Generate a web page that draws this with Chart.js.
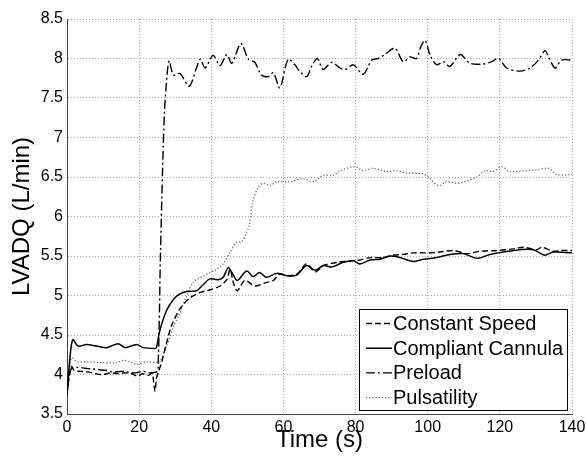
<!DOCTYPE html>
<html>
<head>
<meta charset="utf-8">
<script src="https://cdn.jsdelivr.net/npm/chart.js@4.4.1/dist/chart.umd.min.js"></script>
<style>
html,body{margin:0;padding:0;background:#fff;}
#wrap{width:586px;height:460px;position:relative;}
</style>
</head>
<body>
<div id="wrap"><canvas id="c" width="586" height="460"></canvas></div>
<script>
// ---- Data ----
const seriesNames = ["Constant Speed", "Compliant Cannula", "Preload", "Pulsatility"];
const xTicks = [0, 20, 40, 60, 80, 100, 120, 140];
const yTicks = [3.5, 4, 4.5, 5, 5.5, 6, 6.5, 7, 7.5, 8, 8.5];

const csT = [0,0.7,1.3,2,4,6,8,10,12,14,16,18,19.5,21,22.5,23.5,24,24.4,24.8,25.3,26.2,27.6,29,31.3,34.1,37,39.6,42.4,44.3,45.2,46.2,47.2,49.3,52.1,54.9,57.2,59,61.8,64,66.4,68.8,71.1,75,78.5,81.2,84,87.7,90.5,93.2,96,99.7,103.4,107.1,110.8,114.5,119.1,123.7,126.5,130.2,131.6,134.8,137,140];
const csV = [3.75,4.0,4.1,4.05,4.04,4.03,4.01,4.0,4.02,4.01,4.02,4.01,3.98,4.01,3.99,4.02,3.92,3.79,3.95,4.03,4.15,4.4,4.62,4.83,4.97,5.04,5.07,5.12,5.2,5.33,5.15,5.06,5.19,5.12,5.16,5.19,5.27,5.25,5.28,5.40,5.30,5.38,5.42,5.44,5.45,5.48,5.48,5.51,5.52,5.54,5.54,5.55,5.57,5.53,5.56,5.57,5.59,5.61,5.58,5.61,5.56,5.57,5.57];

const ccT = [0,0.8,1.6,3.1,5.4,8.2,11,14.2,16.1,19.3,21.1,24.4,24.8,25.7,27.6,29.5,31.3,33.2,35.9,37.8,39.6,41.9,43.3,44.7,46.1,47.2,49.8,51.6,53.4,55.3,58.1,60.9,63.7,66.4,68.8,71.1,73.4,76.6,79.4,81.2,84,86.7,89.5,92.3,96,98.8,102.5,106.2,109.9,113.6,117.3,121,125.6,129.3,132.4,134.8,140];
const ccV = [3.75,4.2,4.44,4.36,4.38,4.36,4.34,4.39,4.34,4.38,4.34,4.33,4.34,4.55,4.81,4.95,5.02,5.05,5.06,5.14,5.21,5.20,5.23,5.35,5.26,5.19,5.31,5.24,5.29,5.23,5.28,5.25,5.26,5.38,5.32,5.38,5.36,5.42,5.44,5.40,5.45,5.46,5.50,5.48,5.43,5.46,5.48,5.52,5.53,5.47,5.52,5.55,5.58,5.58,5.51,5.55,5.54];

const plT = [0,0.7,1.3,3,5,7,9,11,13,15,17,19,21,23,24.5,25.2,25.9,26.5,27,27.5,28.3,29.5,31.3,33.9,36.9,38.3,40.5,42.4,44.3,45.7,48.2,50.3,52.1,53.9,55.8,57.2,59,61.3,63.2,64.1,66.4,67.8,69.4,71,73.3,75.7,77.1,79.4,82.1,84.5,86.3,88.1,90.9,93.2,95.1,96.9,98.1,99.3,100.6,102.5,104.3,106.2,109,111.7,115.4,117.8,119.6,121.9,125.6,128.4,130.7,132.5,133.5,135.3,137.1,140];
const plV = [3.78,4.0,4.08,4.09,4.08,4.07,4.06,4.05,4.03,4.04,4.03,4.02,4.04,4.02,4.03,4.05,5.5,6.6,7.3,7.65,7.97,7.79,7.81,7.65,7.99,7.88,8.04,7.91,8.05,7.94,8.19,7.99,7.95,7.79,7.77,7.82,7.63,7.99,7.92,7.86,7.77,7.90,8.0,7.86,7.95,7.88,7.86,7.92,7.80,7.98,8.0,8.05,8.13,7.96,8.02,8.0,8.15,8.23,8.05,7.92,7.96,7.90,8.05,7.94,7.93,7.96,8.0,7.88,7.84,7.88,7.98,8.10,8.02,7.88,7.98,7.98];

const puT = [0,0.7,1.3,3,6,10,13.7,16,19.3,22,25,25.8,27.5,29.5,31.3,33.2,35,37.5,39.6,41.5,43.3,45.2,47,48.4,49.8,50.5,51.6,53,54.4,56.3,58.1,61.8,65.5,68.3,71,73.8,75.7,79.8,82.1,84.8,88.6,91.4,94.2,98.7,100.6,103,105.3,108.1,110.3,113.6,115.9,118.2,120.5,122.8,126.5,130.2,133.5,135.8,140];
const puV = [3.78,4.05,4.21,4.16,4.16,4.15,4.15,4.18,4.13,4.16,4.15,4.16,4.35,4.6,4.78,5.0,5.17,5.24,5.29,5.33,5.40,5.55,5.67,5.68,5.80,5.88,6.20,6.37,6.42,6.39,6.44,6.44,6.48,6.44,6.52,6.52,6.58,6.63,6.58,6.61,6.57,6.58,6.55,6.54,6.48,6.39,6.44,6.42,6.44,6.50,6.58,6.57,6.63,6.57,6.58,6.59,6.61,6.53,6.53];

function pts(t, v) { return t.map((x, i) => ({x: x, y: v[i]})); }

const styles = [
  {color: '#000', dash: [6, 3], width: 1.4},
  {color: '#000', dash: [], width: 1.5},
  {color: '#000', dash: [9, 3, 2, 3], width: 1.4},
  {color: '#666', dash: [1.2, 2], width: 1.3}
];
const allData = [pts(csT, csV), pts(ccT, ccV), pts(plT, plV), pts(puT, puV)];

const datasets = seriesNames.map((name, i) => ({
  label: name,
  data: allData[i],
  borderColor: styles[i].color,
  borderDash: styles[i].dash,
  borderWidth: styles[i].width,
  pointRadius: 0,
  fill: false,
  tension: 0.3
}));

const legendPlugin = {
  id: 'boxLegend',
  afterDraw(chart) {
    const ctx = chart.ctx;
    const ca = chart.chartArea;
    const w = 208, h = 101;
    const x0 = ca.right - 5 - w, y0 = ca.bottom - 4 - h;
    ctx.save();
    ctx.fillStyle = '#fff';
    ctx.fillRect(x0, y0, w, h);
    ctx.strokeStyle = '#000';
    ctx.lineWidth = 1;
    ctx.strokeRect(x0 + 0.5, y0 + 0.5, w, h);
    ctx.font = '20px "Liberation Sans", Arial, sans-serif';
    ctx.textBaseline = 'middle';
    ctx.fillStyle = '#000';
    chart.data.datasets.forEach((ds, i) => {
      const yy = y0 + 14.5 + i * 24.7;
      ctx.beginPath();
      ctx.setLineDash(ds.borderDash);
      ctx.strokeStyle = ds.borderColor;
      ctx.lineWidth = ds.borderWidth;
      ctx.moveTo(x0 + 7, yy);
      ctx.lineTo(x0 + 33, yy);
      ctx.stroke();
      ctx.setLineDash([]);
      ctx.fillText(ds.label, x0 + 34, yy + 1);
    });
    ctx.restore();
  }
};

const tickFont = {family: '"Liberation Sans", Arial, sans-serif', size: 16};
const titleFont = {family: '"Liberation Sans", Arial, sans-serif', size: 24};

new Chart(document.getElementById('c'), {
  type: 'line',
  data: {datasets},
  options: {
    responsive: false,
    animation: false,
    devicePixelRatio: 1,
    layout: {padding: {left: 0, top: 19, right: 0, bottom: 0}},
    plugins: {legend: {display: false}, tooltip: {enabled: false}},
    scales: {
      x: {
        type: 'linear', min: 0, max: 140,
        afterBuildTicks: s => { s.ticks = xTicks.map(v => ({value: v})); },
        afterFit: s => { s.height = 46; s.paddingRight = 14; s.paddingLeft = 0; },
        ticks: {font: tickFont, color: '#000', padding: 4, maxRotation: 0, callback: v => String(v)},
        grid: {color: '#aaa', lineWidth: 1, drawTicks: false},
        border: {display: true, color: '#444', width: 1, dash: [1, 2]},
        title: {display: true, text: 'Time (s)', font: titleFont, color: '#000', padding: {top: 0, bottom: 5}}
      },
      y: {
        type: 'linear', min: 3.5, max: 8.5,
        afterBuildTicks: s => { s.ticks = yTicks.map(v => ({value: v})); },
        afterFit: s => { s.width = 67; },
        ticks: {font: tickFont, color: '#000', padding: 4, callback: v => String(v)},
        grid: {color: '#aaa', lineWidth: 1, drawTicks: false},
        border: {display: true, color: '#444', width: 1, dash: [1, 2]},
        title: {display: true, text: 'LVADQ (L/min)', font: titleFont, color: '#000', padding: {top: 8, bottom: 0}}
      }
    }
  },
  plugins: [legendPlugin]
});
</script>
</body>
</html>
